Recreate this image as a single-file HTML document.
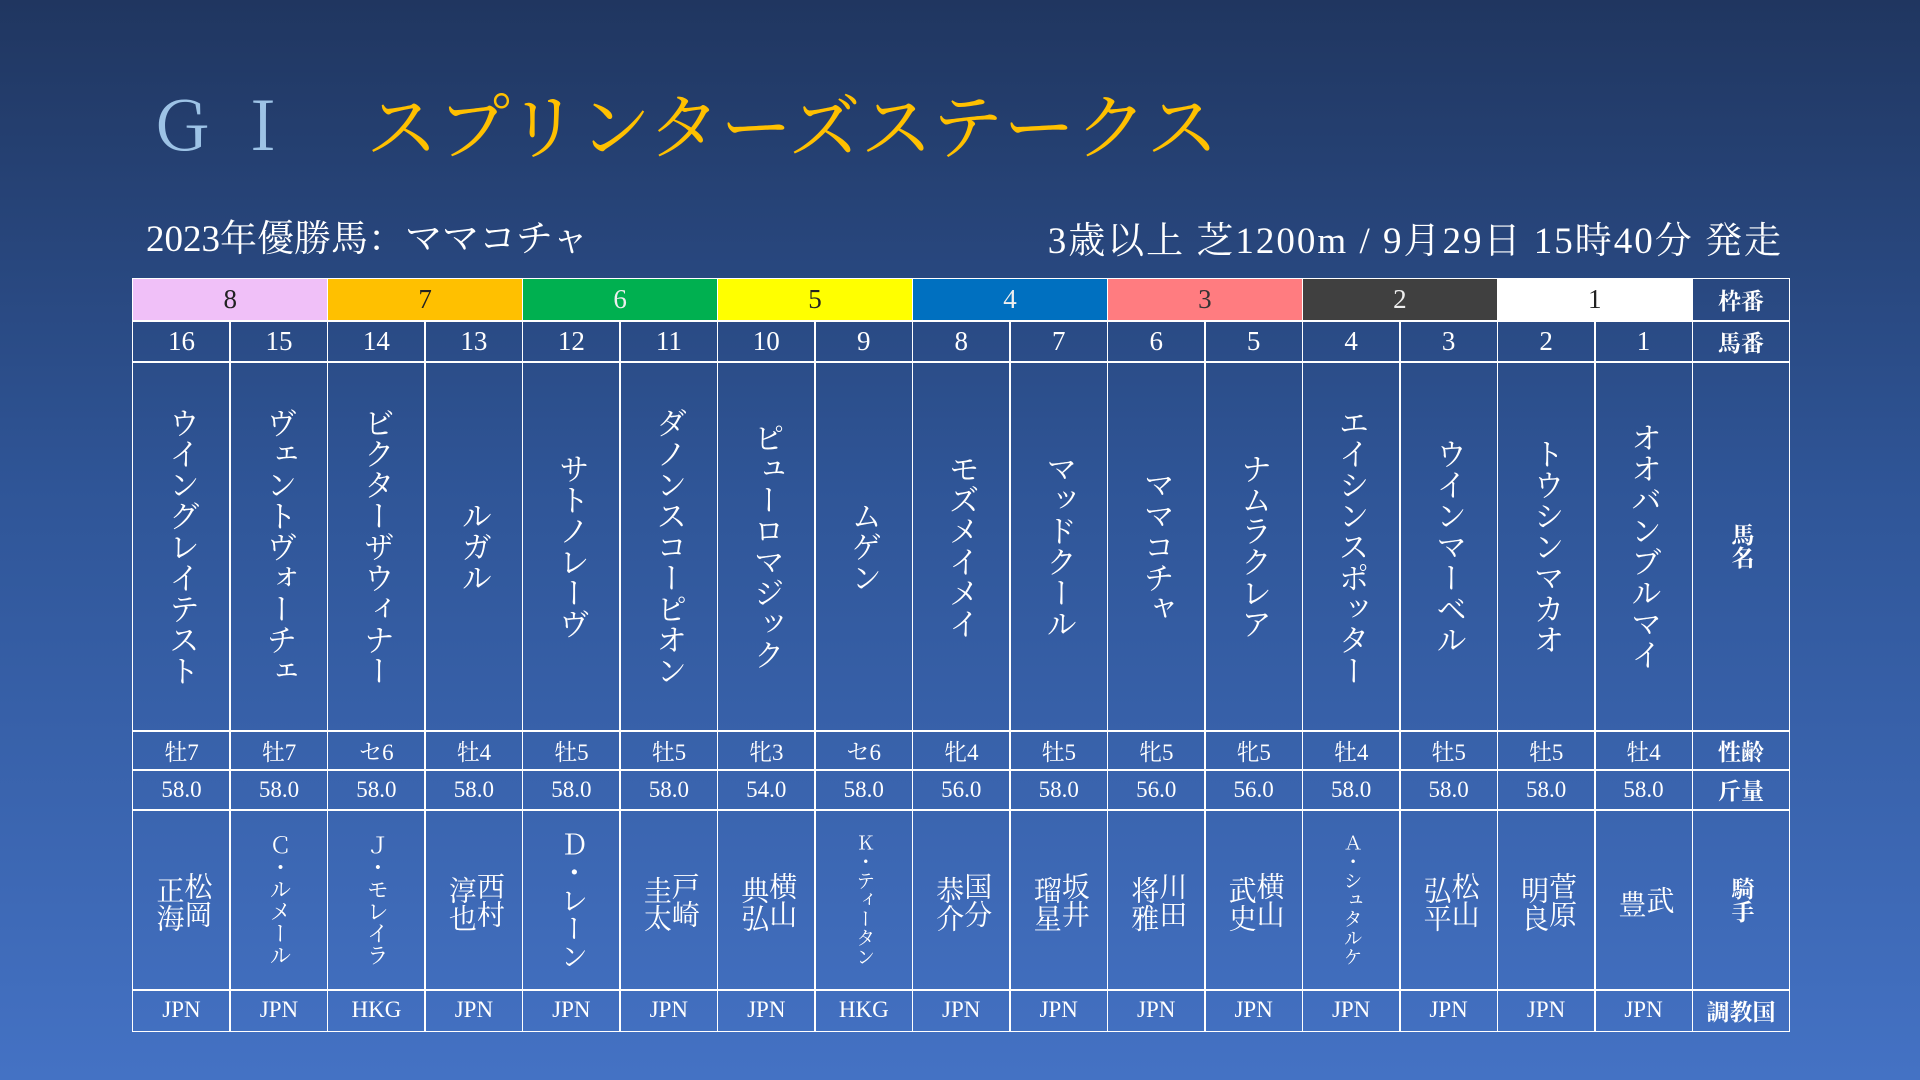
<!DOCTYPE html>
<html><head><meta charset="utf-8"><style>
html,body{margin:0;padding:0}
body{width:1920px;height:1080px;overflow:hidden;position:relative;background:linear-gradient(180deg,#203660 0%,#2f5597 45%,#4472c4 100%);font-family:"Liberation Serif","Noto Serif CJK SC",serif;color:#fff}
.t{position:absolute;white-space:nowrap}
.c{position:absolute;box-sizing:border-box;border:1.5px solid #fff;display:flex;align-items:center;justify-content:center;text-align:center}
.v{writing-mode:vertical-rl;text-orientation:upright;line-height:1}
</style></head><body>
<div class="t" style="left:148px;top:74px;font-size:66px;color:#9dc3e6;letter-spacing:16px">ＧＩ</div>
<div class="t" style="left:366px;top:70px;font-size:72px;color:#ffc000">スプリンターズステークス</div>
<div class="t" style="left:146px;top:208px;font-size:37px">2023年優勝馬：ママコチャ</div>
<div class="t" style="right:137px;top:210px;font-size:37px;letter-spacing:2px">3歳以上 芝1200m / 9月29日 15時40分 発走</div>
<div id="tbl"></div>
<script>
const frames=[8,7,6,5,4,3,2,1];
const frameBg=['#f0c0f8','#ffc000','#00b050','#ffff00','#0070c0','#ff7c80','#404040','#ffffff'];
const frameFg=['#222','#222','#eee','#222','#eee','#333','#eee','#222'];
const nums=[16,15,14,13,12,11,10,9,8,7,6,5,4,3,2,1];
const horses=['ウイングレイテスト','ヴェントヴォーチェ','ビクターザウィナー','ルガル','サトノレーヴ','ダノンスコーピオン','ピューロマジック','ムゲン','モズメイメイ','マッドクール','ママコチャ','ナムラクレア','エイシンスポッター','ウインマーベル','トウシンマカオ','オオバンブルマイ'];
const sexAge=['牡7','牡7','セ6','牡4','牡5','牡5','牝3','セ6','牝4','牡5','牝5','牝5','牡4','牡5','牡5','牡4'];
const weights=['58.0','58.0','58.0','58.0','58.0','58.0','54.0','58.0','56.0','58.0','56.0','56.0','58.0','58.0','58.0','58.0'];
const jockeys=['松岡 正海','Ｃ・ルメール','Ｊ・モレイラ','西村 淳也','Ｄ・レーン','戸崎 圭太','横山 典弘','Ｋ・ティータン','国分 恭介','坂井 瑠星','川田 将雅','横山 武史','Ａ・シュタルケ','松山 弘平','菅原 明良','武 豊'];
const countries=['JPN','JPN','HKG','JPN','JPN','JPN','JPN','HKG','JPN','JPN','JPN','JPN','JPN','JPN','JPN','JPN'];
const labels=['枠番','馬番','馬名','性齢','斤量','騎手','調教国'];
const X0=132,W=(1789-132)/17;
const rowH=[42,41,369,39,40,180,41];
const rowY=[278];for(let i=0;i<rowH.length;i++)rowY.push(rowY[i]+rowH[i]);
const tbl=document.getElementById('tbl');
function cell(x,y,w,h,txt,cls,style,name){
  const d=document.createElement('div');
  d.className='c';d.style.left=x+'px';d.style.top=y+'px';d.style.width=w+'px';d.style.height=h+'px';
  d.setAttribute('style',d.getAttribute('style')+(style||''));
  const s=document.createElement('span');if(cls)s.className=cls;
  if(txt.indexOf(' ')>=0){
    const p=txt.split(' ');
    const a=document.createElement('span');a.textContent=p[0];
    const b=document.createElement('span');b.textContent=p[1];b.style.marginTop='8px';b.style.display='block';
    a.style.display='block';
    s.appendChild(a);s.appendChild(b);
  } else s.textContent=txt;
  d.appendChild(s);
  
  
  tbl.appendChild(d);return d;
}
frames.forEach((f,i)=>{cell(X0+i*2*W,rowY[0],2*W+1.5,rowH[0]+1.5,String(f),'','background:'+frameBg[i]+';color:'+frameFg[i]+';font-size:27px;','frame-'+f);});
nums.forEach((n,i)=>{
  const x=X0+i*W,w=W+1.5;
  cell(x,rowY[1],w,rowH[1]+1.5,String(n),'','font-size:27px;','horse-number-'+n);
  cell(x,rowY[2],w,rowH[2]+1.5,horses[i],'v','font-size:31px;','horse-name-'+n);
  cell(x,rowY[3],w,rowH[3]+1.5,sexAge[i],'','font-size:23px;','sex-age-'+n);
  const jl=jockeys[i].length;const fs=jl>=7?19:(jl>=6?22:28);
  cell(x,rowY[4],w,rowH[4]+1.5,weights[i],'','font-size:23px;','weight-'+n);
  cell(x,rowY[5],w,rowH[5]+1.5,jockeys[i],'v','font-size:'+fs+'px;','jockey-'+n);
  cell(x,rowY[6],w,rowH[6]+1.5,countries[i],'','font-size:23px;','country-'+n);
});
labels.forEach((l,r)=>{
  cell(X0+16*W,rowY[r],W+1.5,rowH[r]+1.5,l,r==2||r==5?'v':'','font-size:23px;font-weight:bold;','label-'+r);
});
</script>
</body></html>
